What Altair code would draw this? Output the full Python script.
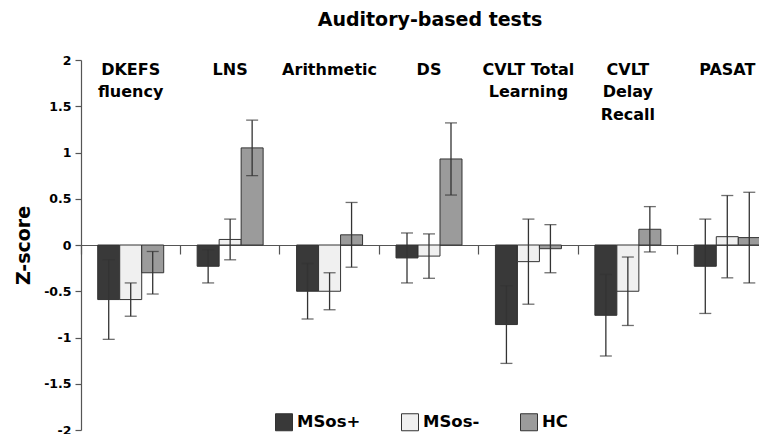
import altair as alt
import pandas as pd

categories = ["DKEFS\nfluency", "LNS", "Arithmetic", "DS",
              "CVLT Total\nLearning", "CVLT\nDelay\nRecall", "PASAT"]
groups = ["MSos+", "MSos-", "HC"]
group_colors = ["#393939", "#f0f0f0", "#9b9b9b"]

msos_pos_mean = [-0.59, -0.23, -0.50, -0.14, -0.86, -0.76, -0.23]
msos_pos_err = [0.43, 0.18, 0.30, 0.27, 0.42, 0.44, 0.51]
msos_neg_mean = [-0.59, 0.06, -0.50, -0.12, -0.18, -0.50, 0.09]
msos_neg_err = [0.18, 0.22, 0.20, 0.24, 0.46, 0.37, 0.445]
hc_mean = [-0.30, 1.05, 0.11, 0.93, -0.04, 0.17, 0.08]
hc_err = [0.23, 0.30, 0.35, 0.39, 0.26, 0.245, 0.49]

y_ticks = [-2, -1.5, -1, -0.5, 0, 0.5, 1, 1.5, 2]

rows = []
for g, means, errs in zip(groups,
                          [msos_pos_mean, msos_neg_mean, hc_mean],
                          [msos_pos_err, msos_neg_err, hc_err]):
    for c, m, e in zip(categories, means, errs):
        rows.append({"test": c, "group": g, "z": m, "lo": m - e, "hi": m + e})
df = pd.DataFrame(rows)

FONT = "DejaVu Sans"
AXIS_COLOR = "#555555"

xo = alt.XOffset("group:N", sort=groups,
                 scale=alt.Scale(paddingInner=0, paddingOuter=0.76))

y_scale = alt.Scale(domain=[-2, 2], nice=False, zero=False)
y_axis = alt.Axis(values=y_ticks, labelExpr="toString(datum.value)",
                  title="Z-score", titleFont=FONT, titleFontSize=19,
                  titleFontWeight="bold", titleColor="black", titlePadding=10,
                  labelFont=FONT, labelFontSize=12.5, labelFontWeight="bold",
                  labelColor="black", labelPadding=4, tickSize=6,
                  tickColor=AXIS_COLOR, domainColor=AXIS_COLOR,
                  domainWidth=1.2, tickWidth=1.2, grid=False, orient="left")

bars = alt.Chart(df).mark_bar(stroke="#333333", strokeWidth=1).encode(
    x=alt.X("test:N", sort=categories,
            scale=alt.Scale(paddingInner=0, paddingOuter=0, range=[0, 696]),
            axis=alt.Axis(orient="bottom", offset=-185, labels=False, ticks=True,
                          tickSize=9, bandPosition=0, domain=True,
                          domainColor=AXIS_COLOR, tickColor=AXIS_COLOR,
                          domainWidth=1.2, tickWidth=1.2, title=None, grid=False)),
    xOffset=xo,
    y=alt.Y("z:Q", stack=None, scale=y_scale, axis=y_axis),
    color=alt.Color("group:N", sort=groups,
                    scale=alt.Scale(domain=groups, range=group_colors),
                    legend=alt.Legend(orient="none", legendX=194, legendY=353,
                                      direction="horizontal", title=None,
                                      symbolType="square", symbolSize=289,
                                      symbolStrokeColor="#333333", symbolStrokeWidth=1,
                                      symbolOpacity=1, gridAlign="each",
                                      labelFont=FONT, labelFontSize=16.5,
                                      labelFontWeight="bold", labelColor="black",
                                      columnPadding=38, labelOffset=4, padding=0)),
)

rules = alt.Chart(df).mark_rule(color="#333333", strokeWidth=1.3).encode(
    x=alt.X("test:N", sort=categories,
            axis=alt.Axis(orient="top", labelExpr="split(datum.label, '\\n')",
                          labelBaseline="top", labelPadding=-1, ticks=False, tickSize=0,
                          domain=False, labelFont=FONT, labelFontSize=16,
                          labelFontWeight="bold", labelColor="black", labelAngle=0,
                          labelOverlap=False, labelLineHeight=22.5, title=None,
                          labelLimit=0, labelFlush=False, grid=False)),
    xOffset=xo,
    y=alt.Y("lo:Q", scale=y_scale, axis=y_axis),
    y2="hi:Q",
)

caps_lo = alt.Chart(df).mark_tick(color="#333333", size=12, thickness=1.3).encode(
    x=alt.X("test:N", sort=categories, axis=None),
    xOffset=xo,
    y=alt.Y("lo:Q", scale=y_scale, axis=y_axis),
)
caps_hi = alt.Chart(df).mark_tick(color="#333333", size=12, thickness=1.3).encode(
    x=alt.X("test:N", sort=categories, axis=None),
    xOffset=xo,
    y=alt.Y("hi:Q", scale=y_scale, axis=y_axis),
)

chart = alt.layer(bars, rules, caps_lo, caps_hi).properties(
    width=678, height=370,
    title=alt.Title("Auditory-based tests", font=FONT, fontSize=19,
                    fontWeight="bold", color="black", anchor="middle", frame="group",
                    offset=24, dx=10),
    padding={"left": 73, "top": 52, "right": 0, "bottom": 4},
    autosize=alt.AutoSizeParams(type="none"),
).configure_view(stroke=None)

chart.save("out.html", embed_options={"renderer": "svg", "actions": False})
